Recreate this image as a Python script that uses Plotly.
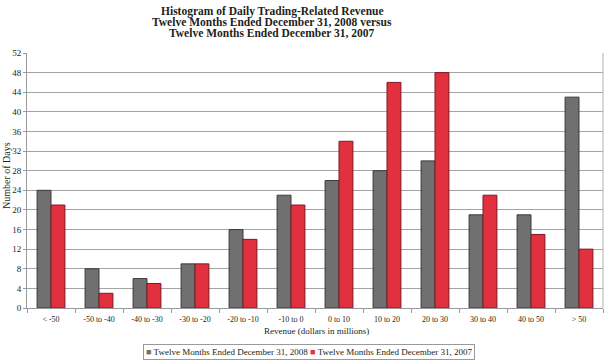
import plotly.graph_objects as go

categories = ["< -50", "-50 to -40", "-40 to -30", "-30 to -20", "-20 to -10", "-10 to 0",
              "0 to 10", "10 to 20", "20 to 30", "30 to 40", "40 to 50", "> 50"]
days_2008 = [24, 8, 6, 9, 16, 23, 26, 28, 30, 19, 19, 43]
days_2007 = [21, 3, 5, 9, 14, 21, 34, 46, 48, 23, 15, 12]
series_names = ["Twelve Months Ended December 31, 2008", "Twelve Months Ended December 31, 2007"]
title_lines = ["Histogram of Daily Trading-Related Revenue",
               "Twelve Months Ended December 31, 2008 versus",
               "Twelve Months Ended December 31, 2007"]
y_ticks = list(range(0, 53, 4))

FONT = "Liberation Serif"
TXT = "#231f20"
GRAY = "#707072"
RED = "#e2303f"

fig = go.Figure()
fig.add_bar(x=categories, y=days_2008, name=series_names[0],
            marker=dict(color=GRAY, line=dict(color="#3a3a3c", width=1)))
fig.add_bar(x=categories, y=days_2007, name=series_names[1],
            marker=dict(color=RED, line=dict(color="#7a1a22", width=1)))

fig.update_layout(
    width=604, height=360,
    margin=dict(l=27, r=1, t=53, b=52, autoexpand=False),
    paper_bgcolor="white", plot_bgcolor="white",
    barmode="group", bargap=0.42, bargroupgap=0,
    font=dict(family=FONT, color=TXT, size=8),
    showlegend=False,
)

# Title lines
for i, line in enumerate(title_lines):
    fig.add_annotation(text="<b>" + line + "</b>", xref="paper", yref="paper",
                       x=(272 - 27) / 576, y=1 + (53 - (12 + 10.5 * i)) / 255,
                       xanchor="center", yanchor="middle", showarrow=False,
                       font=dict(family=FONT, size=11.5, color=TXT))

# Legend (drawn as text with coloured squares)
legend_text = (f"<span style='color:{GRAY}'>■</span> {series_names[0]} "
               f"<span style='color:{RED}'>■</span> {series_names[1]}")
fig.add_annotation(text=legend_text, xref="paper", yref="paper",
                   x=(309 - 27) / 576, y=-(352 - 308) / 255,
                   xanchor="center", yanchor="middle", showarrow=False,
                   font=dict(family=FONT, size=9, color=TXT),
                   bordercolor="#9a9a9a", borderwidth=1, borderpad=2, bgcolor="white")

# Axis titles
fig.add_annotation(text="Revenue (dollars in millions)", xref="paper", yref="paper",
                   x=(316 - 27) / 576, y=-(331 - 308) / 255,
                   xanchor="center", yanchor="middle", showarrow=False,
                   font=dict(family=FONT, size=9, color=TXT))
fig.add_annotation(text="Number of Days", xref="paper", yref="paper",
                   x=-(27 - 6) / 576, y=(308 - 176) / 255, textangle=-90,
                   xanchor="center", yanchor="middle", showarrow=False,
                   font=dict(family=FONT, size=10, color=TXT))

fig.update_xaxes(
    automargin=False,
    showline=True, linecolor="#9a9a9a", linewidth=1,
    ticks="outside", tickson="boundaries", ticklen=4, tickcolor="#9a9a9a",
    ticklabelstandoff=3,
    tickfont=dict(family=FONT, size=8, color=TXT), showgrid=False,
)
fig.update_yaxes(
    automargin=False,
    range=[0, 52], tickvals=y_ticks, ticktext=[str(v) for v in y_ticks],
    showline=True, linecolor="#9a9a9a", linewidth=1,
    ticks="outside", ticklen=3, tickcolor="#9a9a9a",
    showgrid=True, gridcolor="#a4a4a4", gridwidth=1,
    tickfont=dict(family=FONT, size=9, color=TXT), zeroline=False,
)
# right border line
fig.add_shape(type="line", xref="paper", yref="paper", x0=1, x1=1, y0=0, y1=1,
              line=dict(color="#b0b0b0", width=1))

fig.write_html("out.html", config={"displayModeBar": False},
               post_script="document.body.style.margin='0';document.body.style.overflow='hidden';")
